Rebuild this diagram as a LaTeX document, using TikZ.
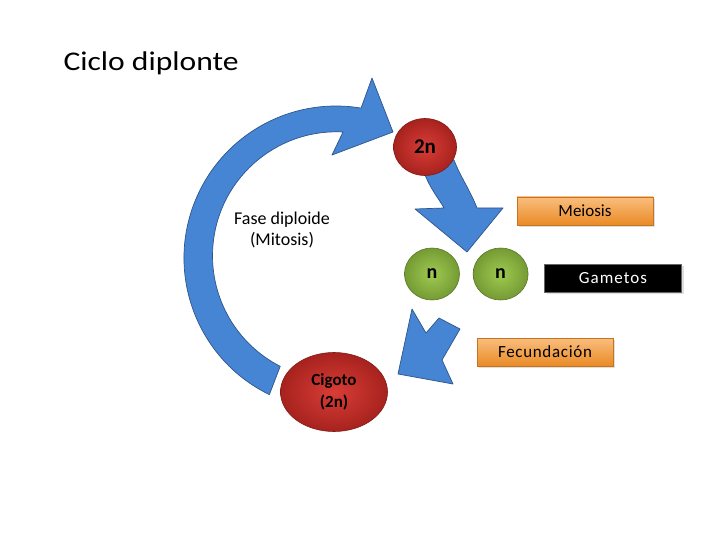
\documentclass[tikz,border=0pt]{standalone}
\usepackage{fontspec}
\setmainfont{Carlito}
\usepackage{tikz}
\usetikzlibrary{positioning,shapes.geometric,shadows}

\definecolor{cycleblue}{RGB}{70,132,212}
\definecolor{cellred}{RGB}{214,44,38}
\definecolor{cellgreen}{RGB}{150,198,66}
\definecolor{boxorange}{RGB}{246,146,40}

\begin{document}
\begin{tikzpicture}[
  x=1pt, y=-1pt,
  bluearrow/.style={fill=cycleblue, draw=cycleblue!65!black, line width=0.7pt, line join=round},
  cell/.style={ellipse, inner sep=0pt, draw=#1!60!black, line width=0.6pt,
    inner color=#1!92!white, outer color=#1!78!black},
  redcell/.style={cell=cellred, font=\bfseries\fontsize{21}{22}\selectfont},
  greencell/.style={cell=cellgreen, minimum width=55pt, minimum height=52pt,
    font=\bfseries\fontsize{20}{22}\selectfont},
  stagebox/.style={rectangle, minimum width=136pt, minimum height=28pt, inner sep=0pt,
    font=\fontsize{17}{20}\selectfont, drop shadow={shadow xshift=2pt, shadow yshift=-2pt, opacity=.25}},
  orangebox/.style={stagebox, draw=boxorange!80!black, top color=boxorange!60!white, bottom color=boxorange!95!black},
  darkbox/.style={stagebox, draw=black!60, fill=black, text=white}
]
\fill[white] (0,0) rectangle (720,540);
\useasboundingbox (0,0) rectangle (720,540);

% title
\node[anchor=base west, font=\fontsize{27}{30}\selectfont\addfontfeature{FakeStretch=1.17}]
  (title) at (60,71) {Ciclo diplonte};

% big mitosis arrow
\path[bluearrow] (336,258) ++(116:152) arc[start angle=116, end angle=279.5, radius=152]
  -- (372,78) -- (393,132) -- (332,155) -- (343,132)
  arc[start angle=273, end angle=117, radius=124] -- cycle;

% meiosis arrow
\path[bluearrow] (420,160) .. controls (427,186) and (438,197) .. (444,208)
  -- (415,209) -- (467,252) -- (503,208) -- (477,208)
  .. controls (470,190) and (460,176) .. (454,160) -- cycle;

% fertilisation arrow
\path[bluearrow] (412,309) -- (426,333) -- (439,318) -- (460,329)
  -- (442,360) -- (453,384) -- (398,374) -- cycle;

% cells
\node[redcell, minimum width=63pt, minimum height=57pt] (two) at (425,147) {2n};
\node[greencell] (nl) at (432,274) {n};
\node[greencell, right=13pt of nl] (nr) {n};
\node[redcell, minimum width=107pt, minimum height=79pt, align=center,
  font=\bfseries\fontsize{17}{22}\selectfont] (cig) at (334,392) {Cigoto\\(2n)};

% labels
\node[align=center, font=\fontsize{18}{21}\selectfont] (fase) at (282,230) {Fase diploide\\(Mitosis)};
\node[orangebox] (mei) at (585,211) {Meiosis};
\node[darkbox, minimum width=137pt, font=\fontsize{17}{20}\selectfont\addfontfeature{LetterSpace=6}]
  (gam) at (613,278) {Gametos};
\node[orangebox, font=\fontsize{17}{20}\selectfont\addfontfeature{LetterSpace=4}]
  (fec) at (545,352) {Fecundación};
\end{tikzpicture}
\end{document}
